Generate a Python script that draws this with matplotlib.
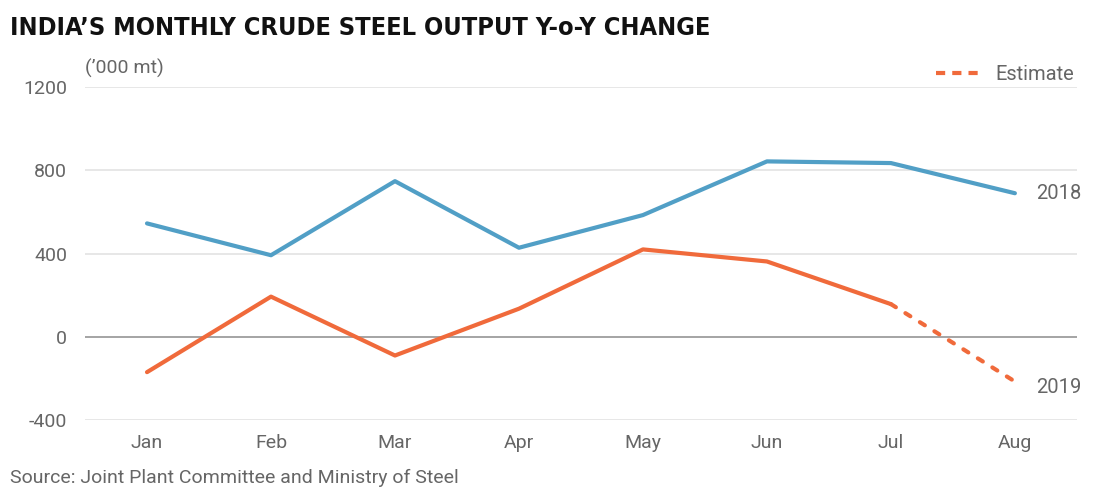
import matplotlib.pyplot as plt
from matplotlib.lines import Line2D

# Data (y-o-y change, '000 mt)
months = ['Jan', 'Feb', 'Mar', 'Apr', 'May', 'Jun', 'Jul', 'Aug']
y2018 = [545, 392, 748, 428, 585, 843, 835, 690]
y2019 = [-170, 193, -90, 135, 420, 362, 157, -215]
n_actual = 7  # Aug 2019 is an estimate

blue = '#519fc6'
orange = '#f06a3b'
grey_text = '#666666'
dash = (0, (1.4, 2.7))

plt.rcParams['font.family'] = ['Roboto', 'DejaVu Sans']
plt.rcParams['axes.unicode_minus'] = False

fig = plt.figure(figsize=(11.07, 4.95), dpi=100)
ax = fig.add_axes([0.0768, 0.1515, 0.896, 0.6725])

x = list(range(len(months)))
ax.plot(x, y2018, color=blue, lw=3, solid_capstyle='round', zorder=3)
ax.plot(x[:n_actual], y2019[:n_actual], color=orange, lw=3, solid_capstyle='round', zorder=3)
ax.plot(x[n_actual - 1:], y2019[n_actual - 1:], color=orange, lw=3, ls=dash,
        dash_capstyle='round', zorder=3)

ax.set_xlim(-0.5, len(months) - 0.5)
ax.set_ylim(-400, 1200)
ax.set_yticks([-400, 0, 400, 800, 1200])
ax.set_xticks(x)
ax.set_xticklabels(months)
ax.grid(axis='y', color='#e3e3e3', lw=1.2)
ax.axhline(0, color='#999999', lw=1.2, zorder=2)
ax.set_axisbelow(True)
for s in ax.spines.values():
    s.set_visible(False)
ax.tick_params(length=0, labelsize=14, colors=grey_text)
ax.tick_params(axis='y', pad=13)
ax.tick_params(axis='x', pad=10)

# series labels
ax.text(x[-1] + 0.17, y2018[-1], '2018', color=grey_text, fontsize=14.5, va='center')
ax.text(x[-1] + 0.17, y2019[-1] - 30, '2019', color=grey_text, fontsize=14.5, va='center')

# title, unit, source
fig.text(0.009, 0.943, 'INDIA\u2019S MONTHLY CRUDE STEEL OUTPUT Y-o-Y CHANGE',
         family='DejaVu Sans', fontstretch='condensed', fontweight='bold',
         fontsize=18.2, va='center', color='#111111')
fig.text(0.0768, 0.862, '(\u2019000 mt)', fontsize=14, color=grey_text, va='center')
fig.text(0.009, 0.035, 'Source: Joint Plant Committee and Ministry of Steel',
         fontsize=14, color=grey_text, va='center')

# legend
leg = ax.legend([Line2D([0], [0], color=orange, lw=3, ls=(0, (2.2, 1.7)), dash_capstyle='butt')],
                ['Estimate'], loc='lower right', bbox_to_anchor=(1.005, 0.985), frameon=False,
                fontsize=14.5, handlelength=2.3, handletextpad=0.65, borderaxespad=0)
for t in leg.get_texts():
    t.set_color(grey_text)

plt.savefig('out.png', dpi=100)
